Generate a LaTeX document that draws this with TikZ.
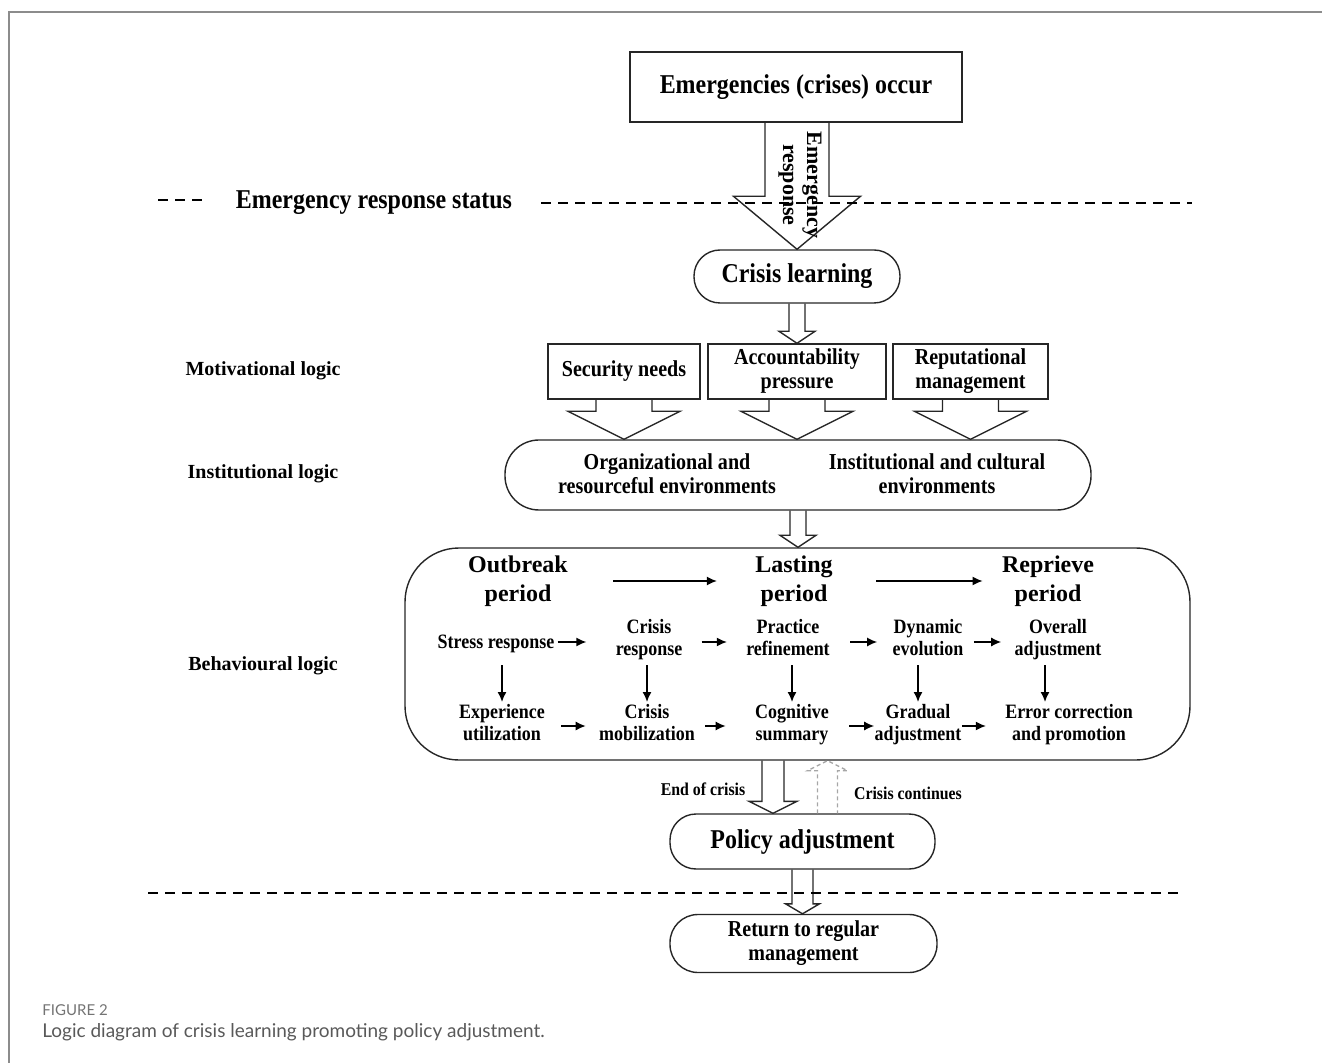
\documentclass[tikz,border=0pt]{standalone}
\usepackage{fontspec}
\setmainfont{Liberation Serif}
\newfontfamily\narrowfont{Liberation Serif}[FakeStretch=0.88]
\newfontfamily\captionfont{Lato}
\usetikzlibrary{arrows.meta, calc, positioning}
\tikzstyle{every picture} = [x=0.5pt, y=-0.5pt]
\tikzstyle{plain box} = [draw=black!85, line width=0.7pt, align=center, inner sep=0pt]
\tikzstyle{round box} = [plain box, rounded corners=13pt]
\tikzstyle{arr} = [-{Latex[length=5pt,width=4.5pt]}, line width=0.75pt]
\tikzstyle{dash line} = [line width=0.75pt, dash pattern=on 5pt off 3.5pt]
\tikzstyle{big text} = [font=\narrowfont\bfseries\fontsize{13.6}{16}\selectfont]
\tikzstyle{mid text} = [align=center, font=\narrowfont\bfseries\fontsize{11.4}{12}\selectfont]
\tikzstyle{row text} = [align=center, inner sep=0pt, font=\narrowfont\bfseries\fontsize{10.2}{11}\selectfont]
\tikzstyle{period text} = [align=center, inner sep=0pt, font=\bfseries\fontsize{12}{14.5}\selectfont]
\tikzstyle{side text} = [font=\bfseries\fontsize{10}{12}\selectfont]
\tikzstyle{small text} = [font=\narrowfont\bfseries\fontsize{9}{11}\selectfont]

% hollow block arrow: from, to, shaft half width, head half width, head length
\newcommand{\fatarrow}[6][]{%
  \draw[line width=0.7pt, draw=black!85, #1] let \p1=(#2), \p2=(#3) in
    (\x1-#4,\y1) -- (\x1-#4,\y2+#6) -- (\x1-#5,\y2+#6) -- (\x1,\y2)
    -- (\x1+#5,\y2+#6) -- (\x1+#4,\y2+#6) -- (\x1+#4,\y1);}

\begin{document}
\begin{tikzpicture}
\useasboundingbox (0,0) rectangle (1322,1063);
\draw[black!45, line width=0.9pt] (9,1063) -- (9,12) -- (1322,12);

% emergency state
\node (occur) at (796,87) [plain box, big text, minimum width=166pt, minimum height=35pt] {Emergencies (crises) occur};
\node (learning) at (797,276.5) [round box, big text, minimum width=103pt, minimum height=26.5pt] {Crisis learning};
\node (status) at (374,203) [big text, inner xsep=14.5pt] {Emergency response status};
\coordinate (topdashL) at (158,200);
\coordinate (topdashR) at (1192,200);

% motivational logic
\node (security) at (624,371.5) [plain box, mid text, minimum width=76pt, minimum height=27.5pt] {Security needs};
\node (account) at (797,371.5) [plain box, mid text, minimum width=89pt, minimum height=27.5pt] {Accountability\\pressure};
\node (reput) at (970.5,371.5) [plain box, mid text, minimum width=77.5pt, minimum height=27.5pt] {Reputational\\management};

% institutional logic
\node (environ) at (798,475) [plain box, rounded corners=17pt, minimum width=293pt, minimum height=35pt] {};
\node (orgres) at (667,474) [mid text] {Organizational and\\resourceful environments};
\node (instcult) at (937,474) [mid text] {Institutional and cultural\\environments};

% behavioural logic
\node (behaviour) at (797.5,654) [plain box, rounded corners=27pt, minimum width=392.5pt, minimum height=106pt] {};
\node (outbreak) at (518,581) [period text] {\strut Outbreak\\period\strut};
\node (lasting) at (794,581) [period text] {\strut Lasting\\period\strut};
\node (reprieve) at (1048,581) [period text] {\strut Reprieve\\period\strut};

\node (stress) at (496,644) [row text] {\strut Stress response};
\node (crisisresp) at (649,639.6) [row text] {\strut Crisis\\response\strut};
\node (practice) at (788,639.6) [row text] {\strut Practice\\refinement\strut};
\node (dynamic) at (928,639.6) [row text] {\strut Dynamic\\evolution\strut};
\node (overall) at (1058,639.6) [row text] {\strut Overall\\adjustment\strut};

\node (experience) at (502,724.6) [row text] {\strut Experience\\utilization\strut};
\node (mobil) at (647,724.6) [row text] {\strut Crisis\\mobilization\strut};
\node (cognitive) at (792,724.6) [row text] {\strut Cognitive\\summary\strut};
\node (gradual) at (918,724.6) [row text] {\strut Gradual\\adjustment\strut};
\node (errorcorr) at (1069,724.6) [row text] {\strut Error correction\\and promotion\strut};

\coordinate (row1y) at (0,642);
\coordinate (row2y) at (0,726);
\coordinate (rowtop) at (0,665);
\coordinate (rowbot) at (0,702);
\coordinate (lastcol) at (1045,0);

% policy
\node (policy) at (802.5,841.5) [round box, big text, minimum width=132.5pt, minimum height=27.5pt] {Policy adjustment};
\node (regular) at (803.5,943.5) [round box, mid text, rounded corners=14pt, minimum width=133.5pt, minimum height=29pt] {Return to regular\\management};
\node (endcrisis) at (703,789) [small text] {End of crisis};
\node (continues) at (908,793) [small text] {Crisis continues};
\coordinate (endx) at ([xshift=-14.75pt]policy.north);
\coordinate (contx) at ([xshift=12.5pt]policy.north);
\coordinate (botdashL) at (148,893);
\coordinate (botdashR) at (1180,893);

% side labels
\node (motiv) at (263,371) [side text] {Motivational logic};
\node (instit) at (263,474) [side text] {Institutional logic};
\node (behav) at (263,666) [side text] {Behavioural logic};

% block arrows
\fatarrow{learning.north |- occur.south}{learning.north}{16pt}{31.75pt}{26.5pt}
\node (resp) at (800,185) [rotate=-90, align=center, font=\bfseries\fontsize{11}{12}\selectfont] {Emergency\\response};
\fatarrow{learning.south}{learning.south |- account.north}{4pt}{9pt}{6pt}
\fatarrow{security.south}{security.south |- environ.north}{14pt}{28pt}{14pt}
\fatarrow{account.south}{account.south |- environ.north}{14pt}{28pt}{14pt}
\fatarrow{reput.south}{reput.south |- environ.north}{14pt}{28pt}{14pt}
\fatarrow{environ.south}{environ.south |- behaviour.north}{4pt}{9pt}{6pt}
\fatarrow{endx |- behaviour.south}{endx}{5.5pt}{12pt}{6pt}
\fatarrow[draw=black!35, dash pattern=on 2pt off 1.5pt]{contx}{contx |- behaviour.south}{5pt}{10pt}{-5pt}
\fatarrow{policy.south}{policy.south |- regular.north}{5.25pt}{8.5pt}{5pt}

% dashed borders
\draw[dash line] (topdashL) -- (topdashL -| status.west) (status.east) -- (status.east -| topdashR);
\draw[dash line] (botdashL) -- (botdashR);

% stage arrows
\draw[arr, shorten <=22.5pt, shorten >=19pt] (outbreak.east) -- (outbreak.east -| lasting.west);
\draw[arr, shorten <=21.5pt, shorten >=9.5pt] (lasting.east) -- (lasting.east -| reprieve.west);

\draw[arr, shorten <=1.5pt, shorten >=14.5pt] (stress.east |- row1y) -- (crisisresp.west |- row1y);
\draw[arr, shorten <=9.5pt, shorten >=9.5pt] (crisisresp.east |- row1y) -- (practice.west |- row1y);
\draw[arr, shorten <=10pt, shorten >=7.5pt] (practice.east |- row1y) -- (dynamic.west |- row1y);
\draw[arr, shorten <=5pt, shorten >=6.5pt] (dynamic.east |- row1y) -- (overall.west |- row1y);

\draw[arr, shorten <=8pt, shorten >=6.5pt] (experience.east |- row2y) -- (mobil.west |- row2y);
\draw[arr, shorten <=5pt, shorten >=14.5pt] (mobil.east |- row2y) -- (cognitive.west |- row2y);
\draw[arr, shorten <=10pt, shorten >=0pt] (cognitive.east |- row2y) -- (gradual.west |- row2y);
\draw[arr, shorten <=0pt, shorten >=9.5pt] (gradual.east |- row2y) -- (errorcorr.west |- row2y);

\draw[arr] (experience.north |- rowtop) -- (experience.north |- rowbot);
\draw[arr] (mobil.north |- rowtop) -- (mobil.north |- rowbot);
\draw[arr] (cognitive.north |- rowtop) -- (cognitive.north |- rowbot);
\draw[arr] (gradual.north |- rowtop) -- (gradual.north |- rowbot);
\draw[arr] (lastcol |- rowtop) -- (lastcol |- rowbot);

% caption
\node (figno) at (42,1010) [anchor=west, inner sep=0pt, text=black!55, font=\captionfont\fontsize{7.5}{9}\selectfont] {FIGURE 2};
\node (figcap) at (42,1032) [anchor=west, inner sep=0pt, text=black!65, font=\captionfont\fontsize{9.5}{11}\selectfont] {Logic diagram of crisis learning promoting policy adjustment.};
\end{tikzpicture}
\end{document}
